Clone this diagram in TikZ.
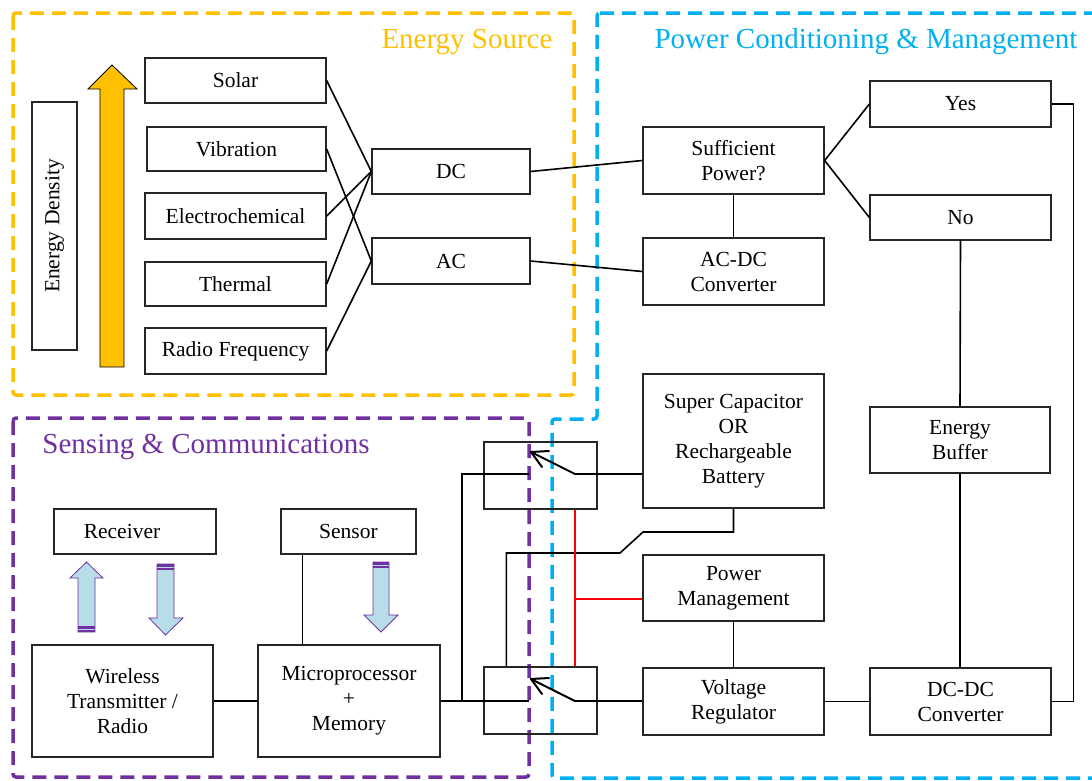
\documentclass[tikz,border=0pt]{standalone}
\usepackage{fontspec}
\setmainfont{Liberation Serif}
\usetikzlibrary{arrows.meta,calc}
\definecolor{esorange}{HTML}{FFC000}
\definecolor{pcblue}{HTML}{00B0F0}
\definecolor{scpurple}{HTML}{7030A0}
\definecolor{arrowblue}{HTML}{B7DEE8}
\newcommand\drawbox[6]{\node[box,minimum width={#4-#2},minimum height={#5-#3}] (#1) at ({(#2+#4)/2},{(#3+#5)/2}) {#6};}
\begin{document}
\begin{tikzpicture}[x=1pt,y=-1pt,
 box/.style={draw=black!85,line width=1.3pt,inner sep=0pt,align=center,font=\fontsize{21.5}{25}\selectfont},
 wire/.style={line width=1.6pt},
 redwire/.style={line width=2pt,draw=red},
 region/.style={line width=3.5pt,dash pattern=on 14pt off 8pt,rounded corners=3pt},
 title/.style={font=\fontsize{29}{33}\selectfont},
 blockarrow/.style={fill=arrowblue,draw=scpurple,line width=0.8pt},
 band/.style={fill=scpurple,draw=none},
 blade/.style={line width=2pt,line cap=round,line join=round},
]
\useasboundingbox (0,0) rectangle (1092,780);
\clip (0,0) rectangle (1092,780);

% regions
\draw[region,esorange] (13,13) rectangle (574,395);
\draw[region,pcblue] (597,13) -- (1097,13) -- (1097,778) -- (552,778) -- (552,419) -- (597,419) -- cycle;
\draw[region,scpurple] (13,418) rectangle (529,777);

\node[title,text=esorange] (tes) at (467,42) {Energy Source};
\node[title,text=pcblue] (tpc) at (866,42) {Power Conditioning \& Management};
\node[title,text=scpurple] (tsc) at (206,447) {Sensing \& Communications};

% energy source
\node[box,rotate=90,minimum width=248,minimum height=45] (ed) at (54.5,226) {Energy Density};
\draw[fill=esorange,draw=black,line width=0.8pt] (100,367) -- (100,89) -- (88,89) -- (112,65) -- (137,89) -- (124,89) -- (124,367) -- cycle;

\drawbox{solar}{145}{58}{326}{103}{Solar}
\drawbox{vib}{147}{127}{326}{171}{Vibration}
\drawbox{elec}{145}{193}{326}{239}{Electrochemical}
\drawbox{therm}{145}{262}{326}{306}{Thermal}
\drawbox{rf}{145}{328}{326}{374}{Radio Frequency}
\drawbox{dc}{372}{149}{530}{194}{DC}
\drawbox{ac}{372}{238}{530}{284}{AC}

% power conditioning
\drawbox{suff}{643}{127}{824}{194}{Sufficient\\Power?}
\drawbox{yes}{870}{81}{1051}{127}{Yes}
\drawbox{no}{870}{195}{1051}{240}{No}
\drawbox{acdc}{643}{238}{824}{305}{AC-DC\\Converter}
\drawbox{cap}{643}{374}{824}{508}{Super Capacitor\\OR\\Rechargeable\\Battery}
\drawbox{buf}{870}{407}{1050}{473}{Energy\\Buffer}
\drawbox{pm}{643}{555}{824}{621}{Power\\Management}
\drawbox{vr}{643}{668}{824}{735}{Voltage\\Regulator}
\drawbox{dcdc}{870}{668}{1051}{735}{DC-DC\\Converter}
\drawbox{sw1}{484}{442}{597}{509}{}
\drawbox{sw2}{484}{667}{597}{734}{}

% sensing
\drawbox{rx}{54}{509}{216}{554}{Receiver\hspace*{26pt}}
\drawbox{sensor}{281}{509}{416}{554}{Sensor}
\drawbox{wtx}{32}{645}{213}{757}{Wireless\\Transmitter /\\Radio}
\drawbox{micro}{258}{645}{440}{757}{Microprocessor\\+\\Memory}

% block arrows
\draw[blockarrow] (78,632) -- (78,578) -- (70,578) -- (86.5,562) -- (103,578) -- (95,578) -- (95,632) -- cycle;
\fill[band] (78,626) rectangle (95,628.5);
\fill[band] (78,630) rectangle (95,632);
\draw[blockarrow] (157,564) -- (157,618) -- (149,618) -- (165.5,635) -- (183,618) -- (174,618) -- (174,564) -- cycle;
\fill[band] (157,564) rectangle (174,566.5);
\fill[band] (157,568) rectangle (174,570);
\draw[blockarrow] (373,562) -- (373,615) -- (364,615) -- (381,632) -- (398,615) -- (389,615) -- (389,562) -- cycle;
\fill[band] (373,562) rectangle (389,564.5);
\fill[band] (373,566) rectangle (389,568);

% source connectors
\draw[wire] (solar.east) -- (dc.west);
\draw[wire] (vib.east) -- (ac.west);
\draw[wire] (elec.east) -- (dc.west);
\draw[wire] (therm.east) -- (dc.west);
\draw[wire] (rf.east) -- (ac.west);
\draw[wire] (dc.east) -- (suff.west);
\draw[wire] (ac.east) -- (acdc.west);

% power connectors
\draw[wire] (suff.east) -- (yes.west);
\draw[wire] (suff.east) -- (no.west);
\draw[wire] (suff.south) -- (acdc.north);
\draw[wire] (no.south) -- (buf.north);
\draw[wire] (buf.south) -- (dcdc.north -| buf.south);
\draw[wire] (dcdc.east) -- ++(22,0) |- (yes.east);
\draw[wire] (vr.east) -- (dcdc.west);
\draw[wire] (pm.south) -- (vr.north);

% switches
\coordinate (s1l) at (529,474);
\coordinate (s1r) at (575,474);
\coordinate (s1a) at (531,452);
\coordinate (s2l) at (529,701);
\coordinate (s2r) at (575,701);
\coordinate (s2a) at (531,679);
\coordinate (j1) at (462,701);
\coordinate (s2t) at ($(sw2.north west)+(23,0)$);
\coordinate (rj) at (575,599);

\draw[blade] (s1r) -- (s1a);
\draw[blade] ($(s1a)+(18,-1)$) -- (s1a) -- ($(s1a)+(11,15)$);
\draw[blade] (s2r) -- (s2a);
\draw[blade] ($(s2a)+(18,-1)$) -- (s2a) -- ($(s2a)+(11,15)$);
\draw[wire] (s1r) -- (cap.west |- s1r);
\draw[wire] (s2r) -- (vr.west |- s2r);
\draw[wire] (s1l) -| (j1);
\draw[wire] (micro.east |- s2l) -- (s2l);
\draw[wire] (cap.south) |- (643,532) -- (620,553) -| (s2t);
\draw[redwire] (sw1.south -| s1r) -- (sw2.north -| s1r);
\draw[redwire] (rj) -- (rj -| pm.west);

% sensing connectors
\draw[wire] (wtx.east) -- (micro.west);
\draw[wire] (sensor.south west) ++(22,0) coordinate (sd) -- (sd |- micro.north);
\end{tikzpicture}
\end{document}
